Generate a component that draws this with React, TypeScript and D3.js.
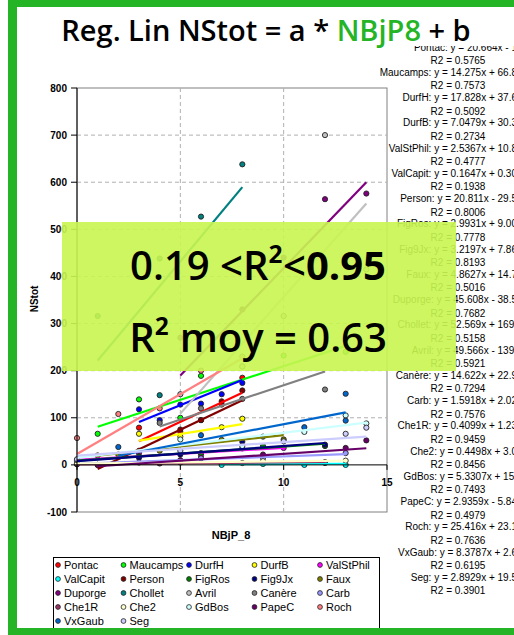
import * as d3 from 'd3'

// series, in legend order
const seriesNames = ['Pontac', 'Maucamps', 'DurfH', 'DurfB', 'ValStPhil', 'ValCapit', 'Person', 'FigRos', 'Fig9Jx', 'Faux', 'Duporge', 'Chollet', 'Avril', 'Canère', 'Carb', 'Che1R', 'Che2', 'GdBos', 'PapeC', 'Roch', 'VxGaub', 'Seg']
const seriesColors = ['#ff0000', '#00ff00', '#0000ff', '#ffff00', '#ff00ff', '#00ffff', '#800000', '#008000', '#000080', '#808000', '#800080', '#008080', '#c0c0c0', '#808080', '#9999ff', '#993366', '#ffffcc', '#ccffff', '#660066', '#ff8080', '#0066cc', '#ccccff']

// trendline y = a*x + b
const slopes = [20.664, 14.275, 17.828, 7.0479, 2.5367, 0.1647, 20.811, 2.9931, 3.2197, 4.8627, 45.608, 52.569, 49.566, 14.622, 1.5918, 0.4099, 0.4498, 5.3307, 2.9359, 25.416, 8.3787, 2.8929]
const intercepts = [-12, 66.8, 37.6, 30.3, 10.8, 0.3, -29.5, 9.0, 7.86, 14.7, -38.5, 169, -139, 22.9, 2.02, 1.23, 3.0, 15, -5.84, 23.1, 2.6, 19.5]
const r2Values = ['0.5765', '0.7573', '0.5092', '0.2734', '0.4777', '0.1938', '0.8006', '0.7778', '0.8193', '0.5016', '0.7682', '0.5158', '0.5921', '0.7294', '0.7576', '0.9459', '0.8456', '0.7493', '0.4979', '0.7636', '0.6195', '0.3901']
const interceptTexts = ['- 1', '+ 66.8', '+ 37.6', '+ 30.3', '+ 10.8', '+ 0.30', '- 29.5', '+ 9.00', '+ 7.86', '+ 14.7', '- 38.5', '+ 169.', '- 139.', '+ 22.9', '+ 2.02', '+ 1.23', '+ 3.0', '+ 15.', '- 5.84', '+ 23.1', '+ 2.6', '+ 19.5']

// observations [NBjP_8, NStot]
const pontacPts = [[3, 79], [5, 70], [6, 95], [7, 128], [8, 185]]
const maucampsPts = [[1, 66], [3, 139], [5, 100], [6, 189], [8, 209], [10, 232], [13, 240]]
const durfHPts = [[3, 118], [4, 95], [5, 128], [6, 130], [7, 150], [8, 174]]
const durfBPts = [[3, 66], [5, 60], [7, 80], [8, 98]]
const valStPhilPts = [[0, 8], [3, 25], [6, 20], [8, 35], [10, 36]]
const valCapitPts = [[7, 0], [9, 2], [11, 0], [12, 4], [13, 0]]
const personPts = [[1, 0], [3, 30], [5, 75], [6, 95], [7, 135], [8, 158]]
const figRosPts = [[0, 10], [3, 18], [6, 25], [9, 40], [12, 40]]
const fig9JxPts = [[0, 8], [3, 15], [5, 22], [8, 49], [12, 43]]
const fauxPts = [[1, 20], [2, 22], [4, 30], [7, 53], [10, 54]]
const duporgePts = [[5, 270], [8, 330], [10, 440], [12, 564], [14, 576]]
const cholletPts = [[1, 316], [4, 148], [4, 438], [6, 527], [8, 638]]
const avrilPts = [[5, 150], [8, 209], [10, 316], [12, 700], [14, 415]]
const canerePts = [[4, 89], [6, 120], [8, 140], [12, 160]]
const carbPts = [[0, 2], [3, 5], [6, 14], [9, 15], [13, 25]]
const che1RPts = [[0, 1], [4, 3], [8, 4], [12, 6]]
const che2Pts = [[0, 3], [5, 5], [9, 8], [13, 9]]
const gdBosPts = [[0, 10], [5, 54], [8, 40], [11, 70], [13, 105], [14, 88]]
const papeCPts = [[1, 0], [5, 10], [9, 22], [13, 36], [14, 52]]
const rochPts = [[0, 57], [2, 108], [4, 120], [6, 200], [8, 230]]
const vxGaubPts = [[2, 38], [6, 63], [9, 60], [11, 80], [13, 94], [13, 151]]
const segPts = [[0, 12], [5, 30], [10, 50], [13, 66], [14, 79]]

const seriesPoints = [pontacPts, maucampsPts, durfHPts, durfBPts, valStPhilPts, valCapitPts, personPts, figRosPts, fig9JxPts, fauxPts, duporgePts, cholletPts, avrilPts, canerePts, carbPts, che1RPts, che2Pts, gdBosPts, papeCPts, rochPts, vxGaubPts, segPts]

const xTicks = [0, 5, 10, 15]
const yTicks = [-100, 0, 100, 200, 300, 400, 500, 600, 700, 800]

const GREEN = '#25b425'
const small = '"Liberation Sans", Arial, sans-serif'
const big = '"Open Sans", sans-serif'

export default function App() {
  const x = d3.scaleLinear().domain([0, 15]).range([77, 387])
  const y = d3.scaleLinear().domain([-100, 800]).range([512, 88])
  const line = d3.line<number[]>().x(d => x(d[0])).y(d => y(d[1]))

  // trendline drawn across each series' x extent
  const trend = seriesPoints.map((pts, i) => {
    const x0 = d3.min(pts, p => p[0]) as number
    const x1 = d3.max(pts, p => p[0]) as number
    return [[x0, slopes[i] * x0 + intercepts[i]], [x1, slopes[i] * x1 + intercepts[i]]]
  })

  return (
    <svg width={514} height={635} style={{ position: 'absolute', left: 0, top: 0, background: '#fff' }}>
      {/* plot area */}
      <rect x={77} y={88} width={310} height={424} fill="#fff" stroke="#808080" />
      {yTicks.filter(t => t > 0 && t < 800).map(t => (
        <line key={'gy' + t} x1={77} x2={387} y1={y(t)} y2={y(t)} stroke="#b0b0b0" strokeDasharray="4,3" />
      ))}
      {xTicks.filter(t => t > 0 && t < 15).map(t => (
        <line key={'gx' + t} x1={x(t)} x2={x(t)} y1={88} y2={512} stroke="#b0b0b0" strokeDasharray="4,3" />
      ))}

      {/* markers */}
      {seriesPoints.map((pts, i) => pts.map((p, j) => (
        <circle key={`p${i}-${j}`} cx={x(p[0])} cy={y(p[1])} r={2.6} fill={seriesColors[i]} stroke="#222" strokeWidth={0.9} />
      )))}

      {/* trendlines */}
      {trend.map((t, i) => (
        <path key={'t' + i} d={line(t) || ''} stroke={seriesColors[i]} strokeWidth={2.2} fill="none" />
      ))}

      {/* axes */}
      <line x1={77} x2={77} y1={88} y2={512} stroke="#000" />
      <line x1={77} x2={387} y1={y(0)} y2={y(0)} stroke="#000" />
      {yTicks.map(t => (
        <g key={'yt' + t}>
          <line x1={71} x2={77} y1={y(t)} y2={y(t)} stroke="#000" />
          <text x={67} y={y(t)} dy="0.35em" textAnchor="end" fontFamily={small} fontSize={10} fontWeight="bold">{t}</text>
        </g>
      ))}
      {xTicks.map(t => (
        <g key={'xt' + t}>
          <line x1={x(t)} x2={x(t)} y1={y(0)} y2={y(0) + 5} stroke="#000" />
          <text x={x(t)} y={486} textAnchor="middle" fontFamily={small} fontSize={10} fontWeight="bold">{t}</text>
        </g>
      ))}
      <text transform="translate(38,299) rotate(-90)" textAnchor="middle" fontFamily={small} fontSize={10} fontWeight="bold">NStot</text>
      <text x={231} y={539} textAnchor="middle" fontFamily={small} fontSize={11} fontWeight="bold">NBjP_8</text>

      {/* trendline labels */}
      {seriesNames.map((n, i) => (
        <g key={'lab' + i} fontFamily={small} fontSize={10}>
          <text x={517} y={50.5 + 25.25 * i} textAnchor="end">{`${n}: y = ${slopes[i]}x ${interceptTexts[i]}`}</text>
          <text x={458} y={64 + 25.25 * i} textAnchor="middle">{`R2 = ${r2Values[i]}`}</text>
        </g>
      ))}

      {/* legend */}
      <rect x={53.5} y={557.5} width={326} height={80} fill="#fff" stroke="#000" />
      {seriesNames.map((n, i) => {
        const cx = 58 + 65.5 * (i % 5)
        const cy = 565 + 14 * Math.floor(i / 5)
        return (
          <g key={'lg' + i}>
            <circle cx={cx} cy={cy} r={2.4} fill={seriesColors[i]} stroke="#222" strokeWidth={0.8} />
            <text x={cx + 6} y={cy} dy="0.35em" fontFamily={small} fontSize={11}>{n}</text>
          </g>
        )
      })}

      {/* highlight box */}
      <rect x={62} y={222} width={394} height={149} fill="#c8f550" opacity={0.91} />
      <text x={258} y={280} textAnchor="middle" fontFamily={big} fontSize={40} fontWeight={600}>
        0.19 &lt;R²&lt;<tspan fontWeight={700}>0.95</tspan>
      </text>
      <text x={258} y={352} textAnchor="middle" fontFamily={big} fontSize={40} fontWeight={600}>R² moy = 0.63</text>

      {/* title */}
      <rect x={17} y={7} width={497} height={39} fill="#fff" />
      <text x={266} y={41} textAnchor="middle" fontFamily={big} fontSize={29} fontWeight={600}>
        Reg. Lin NStot = a * <tspan fill={GREEN}>NBjP8</tspan> + b
      </text>

      {/* frame */}
      <rect x={8} y={0} width={506} height={7} fill={GREEN} />
      <rect x={8} y={0} width={9} height={635} fill={GREEN} />
      <rect x={8} y={628} width={506} height={7} fill={GREEN} />
    </svg>
  )
}
